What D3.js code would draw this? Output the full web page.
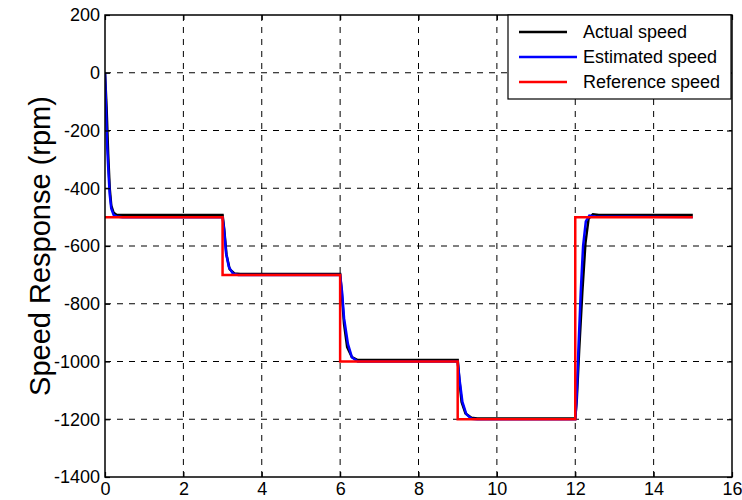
<!DOCTYPE html>
<html>
<head>
<meta charset="utf-8">
<script src="https://cdn.jsdelivr.net/npm/d3@7"></script>
<style>
  body { margin: 0; background: #fff; }
  svg { display: block; font-family: "Liberation Sans", Arial, sans-serif; }
</style>
</head>
<body>
<svg id="chart"></svg>
<script>
// axis ticks
const xTicks = [0, 2, 4, 6, 8, 10, 12, 14, 16];
const yTicks = [200, 0, -200, -400, -600, -800, -1000, -1200, -1400];

// actual speed (black)
const actualTime = [0, 0.04, 0.08, 0.12, 0.16, 0.22, 0.3, 0.5, 3.0, 3.04, 3.1, 3.18, 3.3, 3.45,
  6.0, 6.04, 6.1, 6.18, 6.3, 6.45, 9.0, 9.04, 9.1, 9.2, 9.35, 9.5,
  12.0, 12.04, 12.1, 12.18, 12.26, 12.34, 12.45, 12.6, 15.0];
const actualSpeed = [0, -120, -280, -400, -460, -485, -493, -493, -493, -540, -630, -680, -695, -697,
  -697, -760, -870, -950, -985, -995, -995, -1060, -1140, -1180, -1195, -1197,
  -1197, -1130, -960, -760, -590, -505, -490, -493, -493];

// estimated speed (blue)
const estTime = [0, 0.02, 0.05, 0.09, 0.12, 0.16, 0.22, 0.3, 0.45, 3.0, 3.04, 3.09, 3.16, 3.26, 3.4,
  6.0, 6.05, 6.1, 6.2, 6.3, 6.45, 9.0, 9.05, 9.12, 9.22, 9.35, 9.5,
  12.0, 12.03, 12.08, 12.14, 12.2, 12.27, 12.36, 12.5, 15.0];
const estSpeed = [0, -90, -240, -350, -420, -470, -492, -498, -500, -500, -545, -625, -672, -695, -700,
  -700, -760, -850, -940, -985, -1000, -1000, -1065, -1140, -1182, -1198, -1200,
  -1200, -1140, -960, -760, -600, -515, -495, -498, -500];

// reference speed (red)
const refTime = [0, 3, 3, 6, 6, 9, 9, 12, 12, 15];
const refSpeed = [-500, -500, -700, -700, -1000, -1000, -1200, -1200, -500, -500];

const seriesNames = ['Actual speed', 'Estimated speed', 'Reference speed'];
const seriesColors = ['#000000', '#0000ff', '#ff0000'];

const width = 742, height = 500;
const margin = { top: 15, right: 10, bottom: 23, left: 105 };
const w = width - margin.left - margin.right;
const h = height - margin.top - margin.bottom;

const svg = d3.select('#chart').attr('width', width).attr('height', height);
const g = svg.append('g').attr('transform', `translate(${margin.left},${margin.top})`);

const x = d3.scaleLinear().domain([0, 16]).range([0, w]);
const y = d3.scaleLinear().domain([-1400, 200]).range([h, 0]);

// grid
g.append('g').selectAll('line').data(xTicks.slice(1, -1)).enter().append('line')
  .attr('x1', d => x(d)).attr('x2', d => x(d)).attr('y1', 0).attr('y2', h)
  .attr('stroke', '#000').attr('stroke-width', 1).attr('stroke-dasharray', '6,6');
g.append('g').selectAll('line').data(yTicks.slice(1, -1)).enter().append('line')
  .attr('y1', d => y(d)).attr('y2', d => y(d)).attr('x1', 0).attr('x2', w)
  .attr('stroke', '#000').attr('stroke-width', 1).attr('stroke-dasharray', '6,6');

// clip
svg.append('defs').append('clipPath').attr('id', 'clip')
  .append('rect').attr('width', w).attr('height', h);

const line = d3.line().x(d => x(d[0])).y(d => y(d[1]));
const plot = g.append('g').attr('clip-path', 'url(#clip)');

const series = [
  d3.zip(actualTime, actualSpeed),
  d3.zip(estTime, estSpeed),
  d3.zip(refTime, refSpeed)
];
series.forEach((s, i) => {
  plot.append('path').datum(s)
    .attr('fill', 'none').attr('stroke', seriesColors[i])
    .attr('stroke-width', 2.5).attr('d', line);
});

// axes (ticks inward, box)
const tickLen = 5;
const fmt = d => String(d);
g.append('g').attr('transform', `translate(0,${h})`)
  .call(d3.axisBottom(x).tickValues(xTicks).tickSize(-tickLen).tickPadding(5).tickFormat(fmt))
  .call(a => a.select('.domain').remove());
g.append('g').call(d3.axisTop(x).tickValues(xTicks).tickSize(-tickLen).tickFormat(''))
  .call(a => a.select('.domain').remove());
g.append('g').call(d3.axisLeft(y).tickValues(yTicks).tickSize(-tickLen).tickPadding(5).tickFormat(fmt))
  .call(a => a.select('.domain').remove());
g.append('g').attr('transform', `translate(${w},0)`)
  .call(d3.axisRight(y).tickValues(yTicks).tickSize(-tickLen).tickFormat(''))
  .call(a => a.select('.domain').remove());

g.selectAll('.tick line').attr('stroke', '#000').attr('stroke-width', 1.2);
g.selectAll('.tick text').attr('fill', '#000').style('font-size', '18px');

g.append('rect').attr('width', w).attr('height', h)
  .attr('fill', 'none').attr('stroke', '#000').attr('stroke-width', 1.5);

// y label
svg.append('text')
  .attr('transform', `translate(50,${margin.top + h / 2}) rotate(-90)`)
  .attr('text-anchor', 'middle')
  .style('font-size', '29px')
  .text('Speed Response (rpm)');

// legend
const lg = svg.append('g').attr('transform', 'translate(508,15)');
lg.append('rect').attr('width', 223).attr('height', 84)
  .attr('fill', '#fff').attr('stroke', '#000').attr('stroke-width', 1.2);
seriesNames.forEach((name, i) => {
  const yy = 17 + i * 25;
  lg.append('line').attr('x1', 11).attr('x2', i === 1 ? 69 : 59)
    .attr('y1', yy).attr('y2', yy)
    .attr('stroke', seriesColors[i]).attr('stroke-width', 2.5);
  lg.append('text').attr('x', 75).attr('y', yy + 6)
    .style('font-size', '18px').text(name);
});
</script>
</body>
</html>
